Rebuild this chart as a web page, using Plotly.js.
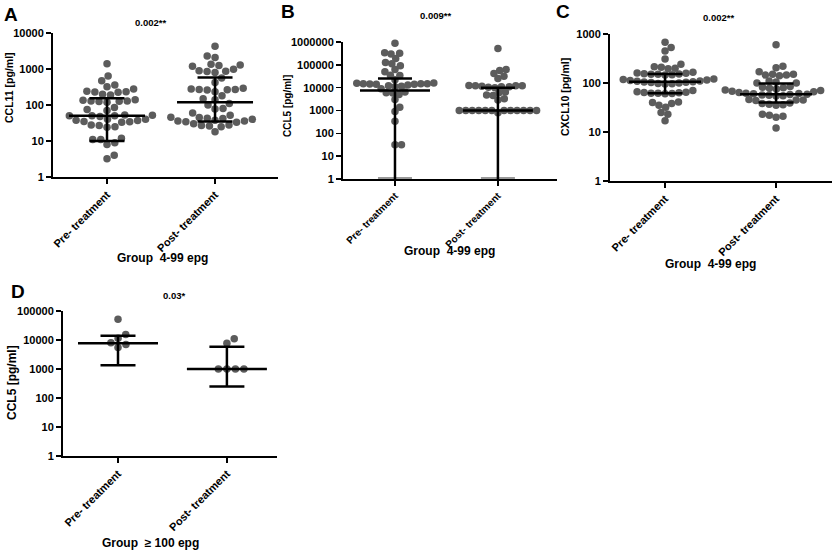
<!DOCTYPE html>
<html><head><meta charset="utf-8">
<script src="https://cdn.plot.ly/plotly-3.0.1.min.js"></script>
<style>html,body{margin:0;padding:0;background:#fff}#chart{width:835px;height:552px}</style>
</head><body><div id="chart"></div>
<script>
// ---------- DATA ----------
const categories = ['Pre- treatment', 'Post- treatment'];
const panelLabels = ['A', 'B', 'C', 'D'];
const yTitles = ['CCL11 [pg/ml]', 'CCL5 [pg/ml]', 'CXCL10 [pg/ml]', 'CCL5 [pg/ml]'];
const xTitles = ['Group  4-99 epg', 'Group  4-99 epg', 'Group  4-99 epg', 'Group  \u2265 100 epg'];
const pValues = ['0.002**', '0.009**', '0.002**', '0.03*'];

const yTicksA = [1, 10, 100, 1000, 10000];
const yTicksB = [1, 10, 100, 1000, 10000, 100000, 1000000];
const yTicksC = [1, 10, 100, 1000];
const yTicksD = [1, 10, 100, 1000, 10000, 100000];

// Panel A: CCL11, group 4-99 epg
const ccl11Pre = [1400, 640, 470, 360, 320, 280, 240, 235, 230, 225, 200, 190, 140, 135, 130, 130, 128, 125, 120, 85, 75, 70, 53, 52, 50, 50, 50, 48, 40, 40, 38, 37, 35, 34, 33, 28, 27, 25, 24, 12, 11, 11, 9, 8, 4, 3.2];
const ccl11Post = [4300, 2300, 2100, 1350, 1300, 1250, 1200, 980, 900, 870, 850, 800, 560, 420, 290, 280, 270, 270, 265, 260, 235, 180, 150, 140, 110, 100, 80, 78, 60, 52, 46, 45, 43, 42, 40, 38, 36, 36, 34, 33, 30, 28, 27, 26, 25, 18];
const ccl11Median = [50, 120];
const ccl11Low = [10, 35];
const ccl11High = [155, 580];

// Panel B: CCL5, group 4-99 epg
const ccl5Pre = [880000, 340000, 320000, 300000, 190000, 127000, 112000, 91000, 63000, 50000, 35000, 34000, 22000, 16000, 15500, 15000, 15000, 15000, 14500, 14000, 14000, 13000, 12000, 11500, 11000, 9000, 6500, 6000, 5800, 5000, 3000, 1400, 900, 340, 32, 32];
const ccl5Post = [520000, 63000, 57000, 42000, 32000, 25000, 12500, 12000, 12000, 11500, 11000, 10500, 10000, 11000, 12000, 6500, 6000, 4800, 4500, 3300, 2900, 1000, 1000, 1000, 1000, 1000, 1000, 1000, 1000, 1000, 1000, 1000, 1000, 800];
const ccl5Median = [7500, 1000];
const ccl5Low = [1, 1];
const ccl5High = [25000, 10000];

// Panel C: CXCL10, group 4-99 epg
const cxcl10Pre = [680, 530, 450, 310, 240, 215, 210, 200, 195, 165, 160, 158, 155, 152, 150, 148, 150, 145, 120, 118, 115, 112, 110, 108, 106, 105, 104, 102, 100, 98, 96, 95, 70, 66, 65, 64, 63, 62, 62, 61, 60, 41, 40, 38, 35, 32, 25, 23, 17];
const cxcl10Post = [600, 220, 205, 170, 150, 150, 145, 145, 140, 110, 105, 100, 100, 85, 82, 80, 78, 75, 72, 70, 68, 66, 64, 62, 61, 60, 59, 58, 57, 56, 55, 54, 46, 45, 45, 44, 39, 38, 37, 36, 35, 23, 22, 21, 20, 12];
const cxcl10Median = [106, 59];
const cxcl10Low = [62, 40];
const cxcl10High = [152, 98];

// Panel D: CCL5, group >= 100 epg
const ccl5HighPre = [52000, 15500, 11500, 8000, 7000, 5500];
const ccl5HighPost = [11000, 7800, 1000, 1000, 1000, 1000];
const ccl5HighMedian = [7700, 1000];
const ccl5HighLow = [1350, 250];
const ccl5HighHigh = [14000, 5800];

// ---------- LAYOUT GEOMETRY (pixels) ----------
const W = 835, H = 552;
const panels = [
  {pre: ccl11Pre, post: ccl11Post, med: ccl11Median, lo: ccl11Low, hi: ccl11High, ticks: yTicksA,
   px: [53, 278], py: [33, 177], xr: [-0.5, 1.583], spacing: 8, medHalf: 38, capHalf: 17.5, loCapColor: '#000',
   label: [11, 14], pval: [150, 23], ytitle: [9, 88], ytSize: 10.5, xtitle: [162, 258], xtSize: 11},
  {pre: ccl5Pre, post: ccl5Post, med: ccl5Median, lo: ccl5Low, hi: ccl5High, ticks: yTicksB,
   px: [343, 557], py: [42, 179], xr: [-0.505, 1.574], spacing: 6.5, medHalf: 35, capHalf: 17, loCapColor: '#999',
   label: [288, 12], pval: [435, 15], ytitle: [288, 106], ytSize: 10, xtitle: [449, 251], xtSize: 10},
  {pre: cxcl10Pre, post: cxcl10Post, med: cxcl10Median, lo: cxcl10Low, hi: cxcl10High, ticks: yTicksC,
   px: [610, 832], py: [34, 181], xr: [-0.496, 1.504], spacing: 7, medHalf: 36, capHalf: 17.5, loCapColor: '#000',
   label: [563, 12], pval: [718, 17], ytitle: [565, 97], ytSize: 10.5, xtitle: [710, 264], xtSize: 11},
  {pre: ccl5HighPre, post: ccl5HighPost, med: ccl5HighMedian, lo: ccl5HighLow, hi: ccl5HighHigh, ticks: yTicksD,
   px: [63, 277], py: [311, 456], xr: [-0.505, 1.46], spacing: 8.5, medHalf: 40, capHalf: 17.5, loCapColor: '#000',
   label: [18, 291], pval: [174, 295], ytitle: [12, 383], ytSize: 12, xtitle: [150, 543], xtSize: 11}
];

const FONT = 'Arial, "Liberation Sans", Helvetica, sans-serif';
const DOT = '#5c5c5c';

// beeswarm offsets computed in pixel space from the values
function swarm(values, pxPerUnit, pxPerDecade, diam) {
  const idx = values.map((v, i) => i).sort((a, b) => values[a] - values[b]);
  const placed = [];
  const off = new Array(values.length);
  for (const i of idx) {
    const y = Math.log10(values[i]) * pxPerDecade;
    const cands = [0];
    for (const p of placed) {
      const dy = y - p.y;
      if (Math.abs(dy) < diam) {
        const dx = Math.sqrt(diam * diam - dy * dy);
        cands.push(p.x + dx + 0.01, p.x - dx - 0.01);
      }
    }
    cands.sort((a, b) => Math.abs(a) - Math.abs(b));
    let chosen = 0;
    for (const c of cands) {
      if (placed.every(p => (p.x - c) ** 2 + (p.y - y) ** 2 >= diam * diam - 0.1)) { chosen = c; break; }
    }
    placed.push({x: chosen, y});
    off[i] = chosen / pxPerUnit;
  }
  return off;
}

// minor log tick positions (2..9 within each decade)
function minorTicks(majors) {
  const out = [];
  for (let d = 0; d < majors.length - 1; d++) for (let m = 2; m <= 9; m++) out.push(majors[d] * m);
  return out;
}

const traces = [];
const layout = {
  width: W, height: H, margin: {l: 0, r: 0, t: 0, b: 0},
  paper_bgcolor: '#fff', plot_bgcolor: '#fff', showlegend: false,
  annotations: [], font: {family: FONT, color: '#000'}
};

panels.forEach((P, k) => {
  const s = k === 0 ? '' : String(k + 1);
  const xa = 'x' + s, ya = 'y' + s;
  const nDec = Math.log10(P.ticks[P.ticks.length - 1]);
  const pxPerUnit = (P.px[1] - P.px[0]) / (P.xr[1] - P.xr[0]);
  const pxPerDec = (P.py[1] - P.py[0]) / nDec;
  const yDomain = [1 - P.py[1] / H, 1 - P.py[0] / H];

  [P.pre, P.post].forEach((vals, c) => {
    const off = swarm(vals, pxPerUnit, pxPerDec, P.spacing);
    traces.push({
      type: 'scatter', mode: 'markers', xaxis: xa, yaxis: ya, cliponaxis: false,
      x: vals.map((v, i) => c + off[i]), y: vals,
      marker: {size: 7.5, color: DOT, line: {width: 0}}, hoverinfo: 'y'
    });
  });

  const mw = P.medHalf / pxPerUnit, cw = P.capHalf / pxPerUnit;
  const lx = [], ly = [], cx = [], cy = [];
  categories.forEach((cat, c) => {
    lx.push(c - mw, c + mw, null); ly.push(P.med[c], P.med[c], null);
    lx.push(c, c, null); ly.push(P.lo[c], P.hi[c], null);
    lx.push(c - cw, c + cw, null); ly.push(P.hi[c], P.hi[c], null);
    cx.push(c - cw, c + cw, null); cy.push(P.lo[c], P.lo[c], null);
  });
  traces.push({type: 'scatter', mode: 'lines', xaxis: xa, yaxis: ya, cliponaxis: false,
    x: cx, y: cy, line: {color: P.loCapColor, width: P.loCapColor === '#000' ? 2.5 : 4}, hoverinfo: 'skip'});
  traces.push({type: 'scatter', mode: 'lines', xaxis: xa, yaxis: ya, cliponaxis: false,
    x: lx, y: ly, line: {color: '#000', width: 2.5}, hoverinfo: 'skip'});

  // small log ticks between decades, drawn just left of the y axis line
  const mt = minorTicks(P.ticks);
  traces.push({type: 'scatter', mode: 'markers', xaxis: xa, yaxis: ya, cliponaxis: false,
    x: mt.map(() => P.xr[0] - 2.5 / pxPerUnit), y: mt,
    marker: {symbol: 'line-ew', size: 4, line: {color: '#000', width: 1}}, hoverinfo: 'skip'});

  layout['xaxis' + s] = {
    domain: [P.px[0] / W, P.px[1] / W], anchor: ya, range: P.xr,
    tickmode: 'array', tickvals: [0, 1], ticktext: categories, tickangle: -45,
    ticks: 'outside', ticklen: 5, tickwidth: 1.5, tickcolor: '#000',
    showline: true, linewidth: 2, linecolor: '#000', showgrid: false, zeroline: false,
    tickfont: {family: FONT, size: P.xtSize, weight: 'bold', color: '#000'}, fixedrange: true,
    layer: 'above traces'
  };
  layout['yaxis' + s] = {
    domain: yDomain, anchor: xa, type: 'log', range: [0, nDec],
    tickmode: 'array', tickvals: P.ticks, ticktext: P.ticks.map(String),
    ticks: 'outside', ticklen: 5, tickwidth: 1.5, tickcolor: '#000',
    showline: true, linewidth: 2, linecolor: '#000', showgrid: false, zeroline: false,
    tickfont: {family: FONT, size: 11, weight: 'bold', color: '#000'}, fixedrange: true
  };

  const px2x = v => v / W, py2y = v => 1 - v / H;
  layout.annotations.push(
    {text: panelLabels[k], xref: 'paper', yref: 'paper', x: px2x(P.label[0]), y: py2y(P.label[1]),
     xanchor: 'center', yanchor: 'middle', showarrow: false,
     font: {family: FONT, size: 19, weight: 'bold', color: '#000'}},
    {text: pValues[k], xref: 'paper', yref: 'paper', x: px2x(P.pval[0]), y: py2y(P.pval[1]),
     xanchor: 'center', yanchor: 'middle', showarrow: false,
     font: {family: FONT, size: 9.5, weight: 'bold', color: '#000'}},
    {text: yTitles[k], xref: 'paper', yref: 'paper', x: px2x(P.ytitle[0]), y: py2y(P.ytitle[1]),
     xanchor: 'center', yanchor: 'middle', textangle: -90, showarrow: false,
     font: {family: FONT, size: P.ytSize, weight: 'bold', color: '#000'}},
    {text: xTitles[k], xref: 'paper', yref: 'paper', x: px2x(P.xtitle[0]), y: py2y(P.xtitle[1]),
     xanchor: 'center', yanchor: 'middle', showarrow: false,
     font: {family: FONT, size: 12, weight: 'bold', color: '#000'}}
  );
});

Plotly.newPlot('chart', traces, layout, {displayModeBar: false, staticPlot: true});
</script>
</body></html>
